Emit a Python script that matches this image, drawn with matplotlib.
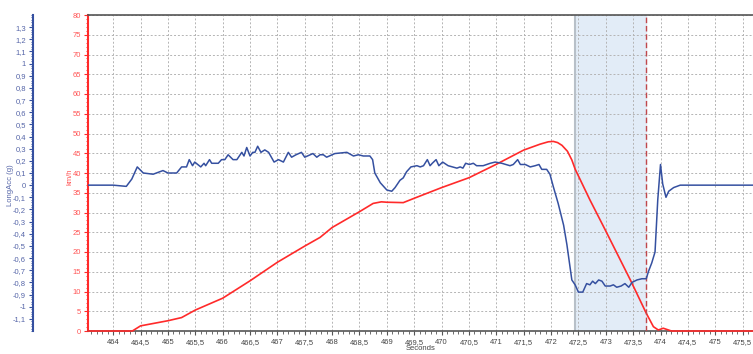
import matplotlib
matplotlib.use("Agg")
import matplotlib.pyplot as plt
from matplotlib.ticker import MultipleLocator, FuncFormatter

plt.rcParams["font.family"] = ["Liberation Sans Narrow", "Liberation Sans", "DejaVu Sans"]

# Speed trace (km/h)
speed_t = [463.54, 464.35, 464.5, 465.0, 465.25, 465.5, 466.0, 466.5, 467.0, 467.5,
           467.78, 468.0, 468.5, 468.75, 468.9, 469.0, 469.3, 469.5, 470.0, 470.5,
           471.0, 471.5, 471.8, 471.95, 472.04, 472.12, 472.2, 472.3, 472.38, 472.44,
           472.71, 472.99, 473.45, 473.74, 473.87, 473.96, 474.05, 474.2, 475.69]
speed_kmh = [0, 0, 1.3, 2.6, 3.4, 5.3, 8.3, 12.7, 17.4, 21.5,
             23.7, 26.2, 30.2, 32.3, 32.7, 32.6, 32.5, 33.6, 36.3, 38.8,
             42.2, 45.8, 47.3, 47.9, 48.0, 47.7, 47.0, 45.5, 43.3, 41.0,
             33.2, 25.6, 12.9, 4.5, 1.1, 0.25, 0.7, 0, 0]

# Longitudinal acceleration trace (g)
acc_t = [463.54, 464.0, 464.24, 464.34, 464.44, 464.55, 464.73, 464.91, 465.0, 465.16,
         465.25, 465.34, 465.39, 465.45, 465.49, 465.6, 465.66, 465.69, 465.76, 465.8,
         465.92, 465.98, 466.04, 466.1, 466.19, 466.26, 466.35, 466.39, 466.44, 466.5,
         466.55, 466.59, 466.64, 466.7, 466.77, 466.84, 466.94, 467.02, 467.11, 467.2,
         467.26, 467.34, 467.44, 467.5, 467.6, 467.65, 467.72, 467.78, 467.84, 467.9,
         468.05, 468.27, 468.39, 468.48, 468.57, 468.69, 468.74, 468.78, 468.88, 469.0,
         469.09, 469.15, 469.24, 469.3, 469.36, 469.44, 469.55, 469.61, 469.67, 469.74,
         469.79, 469.83, 469.9, 469.95, 470.02, 470.12, 470.28, 470.34, 470.39, 470.44,
         470.51, 470.58, 470.64, 470.76, 470.89, 470.98, 471.1, 471.25, 471.31, 471.39,
         471.44, 471.53, 471.62, 471.71, 471.78, 471.83, 471.92, 471.98, 472.04, 472.13,
         472.23, 472.29, 472.38, 472.44, 472.5, 472.58, 472.65, 472.71, 472.76, 472.81,
         472.87, 472.93, 472.99, 473.08, 473.14, 473.2, 473.28, 473.35, 473.42, 473.48,
         473.57, 473.66, 473.74, 473.78, 473.84, 473.9, 473.95, 474.0, 474.04, 474.1,
         474.15, 474.24, 474.36, 474.48, 475.69]
acc_g = [0.0, 0.0, -0.01, 0.05, 0.15, 0.10, 0.09, 0.12, 0.10, 0.10,
         0.15, 0.15, 0.21, 0.16, 0.19, 0.15, 0.18, 0.16, 0.21, 0.18,
         0.18, 0.21, 0.21, 0.25, 0.21, 0.21, 0.27, 0.24, 0.31, 0.24,
         0.27, 0.27, 0.32, 0.27, 0.29, 0.27, 0.19, 0.21, 0.19, 0.27,
         0.23, 0.25, 0.27, 0.23, 0.25, 0.26, 0.23, 0.25, 0.25, 0.23,
         0.26, 0.27, 0.24, 0.25, 0.24, 0.24, 0.21, 0.10, 0.02, -0.04,
         -0.05, -0.02, 0.04, 0.06, 0.11, 0.15, 0.16, 0.15, 0.16, 0.21,
         0.16, 0.18, 0.21, 0.16, 0.19, 0.16, 0.14, 0.15, 0.14, 0.18,
         0.17, 0.18, 0.16, 0.16, 0.18, 0.19, 0.18, 0.16, 0.17, 0.21,
         0.17, 0.17, 0.15, 0.16, 0.17, 0.13, 0.13, 0.09, -0.01, -0.15,
         -0.33, -0.49, -0.78, -0.82, -0.88, -0.88, -0.81, -0.82, -0.79, -0.81,
         -0.78, -0.79, -0.83, -0.83, -0.82, -0.84, -0.83, -0.81, -0.84, -0.80,
         -0.78, -0.77, -0.77, -0.71, -0.64, -0.55, -0.12, 0.17, 0.01, -0.10,
         -0.05, -0.02, 0.0, 0.0, 0.0]

# Selected interval and cursor
sel_start, sel_end = 472.44, 473.74

x_major = 0.5
speed_ticks = list(range(0, 81, 5))
acc_ticks = [round(-1.1 + 0.1 * i, 1) for i in range(25)]

RED = "#ff2a2a"
RED_TXT = "#ff5555"
BLUE = "#3550a0"
BLUE_TXT = "#5565a8"
GRAY_TXT = "#444444"
FS = 5.5


def comma(v, pos=None):
    s = f"{v:.1f}".rstrip("0").rstrip(".")
    if s == "-0":
        s = "0"
    return s.replace(".", ",")


fig = plt.figure(figsize=(7.53, 3.54), dpi=100)
ax = fig.add_axes([88 / 753, 23 / 354, 665 / 753, 316 / 354])

ax.set_xlim(463.54, 475.69)
ax.set_ylim(0, 80)

ax.axvspan(sel_start, sel_end, color="#e2ecf7", zorder=0)
ax.axvline(sel_start, color="#b8c0c8", lw=1.5, zorder=1)
ax.axvline(sel_end, color="#c0484c", lw=1.0, ls=(0, (4, 2)), zorder=4)

ax.grid(True, which="major", color="#b4b4b4", ls=(0, (2, 2)), lw=0.7)
ax.set_axisbelow(True)

ax.xaxis.set_major_locator(MultipleLocator(x_major))
ax.xaxis.set_minor_locator(MultipleLocator(0.1))
ax.xaxis.set_major_formatter(FuncFormatter(comma))
ax.set_yticks(speed_ticks)
ax.yaxis.set_minor_locator(MultipleLocator(1))

ax.tick_params(axis="x", which="major", labelsize=FS, colors="#555555", labelcolor=GRAY_TXT, length=3, pad=2.5)
ax.tick_params(axis="x", which="minor", length=2, colors="#555555")
ax.tick_params(axis="y", which="major", labelsize=FS, colors=RED, labelcolor=RED_TXT, length=3, pad=2)
ax.tick_params(axis="y", which="minor", length=1.5, colors=RED)

for side in ("top", "bottom"):
    ax.spines[side].set_color("#555555")
    ax.spines[side].set_linewidth(1.2)
ax.spines["right"].set_visible(False)
ax.spines["left"].set_color(RED)
ax.spines["left"].set_linewidth(1.5)

ax.set_xlabel("Seconds", fontsize=FS, color=GRAY_TXT, va="center")
ax.xaxis.set_label_coords(0.5, -18 / 316)
ax.set_ylabel("km/h", fontsize=FS, color=RED_TXT, va="center")
ax.yaxis.set_label_coords(-18 / 665, 154 / 316)

ax.plot(speed_t, speed_kmh, color=RED, lw=1.2, zorder=3, clip_on=False)

# Acceleration on its own axis, placed further left
ax2 = ax.twinx()
ax2.set_ylim(-1.2, 1.4)
ax2.spines["left"].set_position(("axes", -55 / 665))
ax2.spines["left"].set_visible(True)
ax2.spines["left"].set_color(BLUE)
ax2.spines["left"].set_linewidth(1.5)
for side in ("right", "top", "bottom"):
    ax2.spines[side].set_visible(False)
ax2.yaxis.set_ticks_position("left")
ax2.yaxis.set_label_position("left")
ax2.set_yticks(acc_ticks)
ax2.yaxis.set_minor_locator(MultipleLocator(0.02))
ax2.yaxis.set_major_formatter(FuncFormatter(comma))
ax2.tick_params(axis="y", which="major", labelsize=FS, colors=BLUE, labelcolor=BLUE_TXT, length=3, pad=2)
ax2.tick_params(axis="y", which="minor", length=1.5, colors=BLUE)
ax2.set_ylabel("LongAcc (g)", fontsize=FS, color=BLUE_TXT, va="center")
ax2.yaxis.set_label_coords(-78 / 665, 146 / 316)

ax2.plot(acc_t, acc_g, color=BLUE, lw=1.1, zorder=3)

fig.savefig("out.png", dpi=100)
